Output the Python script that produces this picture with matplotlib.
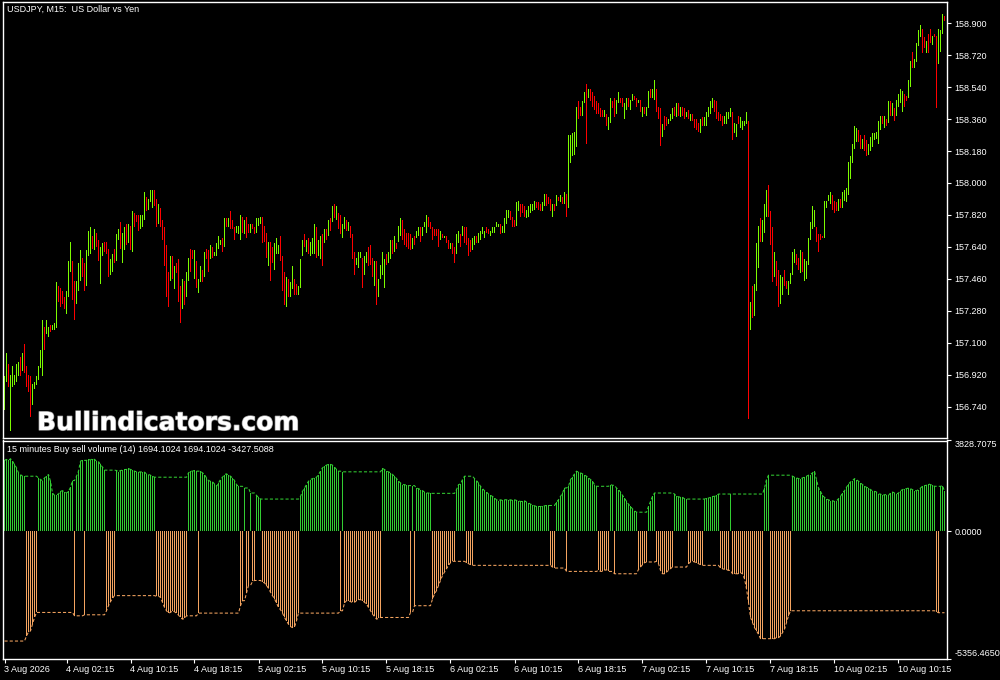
import numpy as np
import matplotlib
matplotlib.use('Agg')
import matplotlib.pyplot as plt
import matplotlib.patheffects as pe

plt.rcParams['font.family'] = ['Liberation Sans', 'DejaVu Sans']

# ---- USDJPY M15 bars ----
high = [
    156.91, 157.04, 156.98, 156.92, 156.97, 156.92, 156.98, 156.99, 157.02, 157.04,
    157.09, 156.97, 156.92, 156.91, 156.87, 156.88, 156.91, 156.97, 157.06, 157.23,
    157.19, 157.23, 157.19, 157.20, 157.20, 157.21, 157.44, 157.42, 157.41, 157.39,
    157.36, 157.39, 157.56, 157.67, 157.56, 157.45, 157.45, 157.55, 157.62, 157.58,
    157.55, 157.62, 157.73, 157.75, 157.70, 157.74, 157.72, 157.68, 157.64, 157.66,
    157.67, 157.67, 157.63, 157.57, 157.60, 157.63, 157.71, 157.74, 157.78, 157.72,
    157.75, 157.77, 157.77, 157.76, 157.84, 157.83, 157.82, 157.82, 157.82, 157.82,
    157.95, 157.92, 157.91, 157.96, 157.96, 157.96, 157.91, 157.88, 157.86, 157.79,
    157.75, 157.65, 157.50, 157.59, 157.59, 157.53, 157.55, 157.57, 157.42, 157.46,
    157.45, 157.50, 157.58, 157.63, 157.62, 157.62, 157.56, 157.46, 157.53, 157.51,
    157.61, 157.63, 157.62, 157.65, 157.64, 157.61, 157.66, 157.70, 157.68, 157.69,
    157.80, 157.80, 157.80, 157.84, 157.79, 157.75, 157.76, 157.76, 157.82, 157.81,
    157.79, 157.81, 157.77, 157.77, 157.77, 157.75, 157.80, 157.80, 157.81, 157.81,
    157.76, 157.72, 157.67, 157.67, 157.64, 157.66, 157.69, 157.65, 157.70, 157.59,
    157.50, 157.47, 157.46, 157.44, 157.53, 157.46, 157.43, 157.42, 157.57, 157.68,
    157.71, 157.68, 157.69, 157.67, 157.69, 157.77, 157.75, 157.68, 157.70, 157.71,
    157.74, 157.74, 157.79, 157.80, 157.87, 157.88, 157.87, 157.83, 157.82, 157.77,
    157.81, 157.79, 157.78, 157.76, 157.71, 157.61, 157.58, 157.61, 157.61, 157.58,
    157.59, 157.61, 157.64, 157.65, 157.58, 157.56, 157.56, 157.46, 157.54, 157.61,
    157.57, 157.60, 157.61, 157.68, 157.68, 157.70, 157.66, 157.76, 157.80, 157.79,
    157.74, 157.72, 157.72, 157.71, 157.69, 157.70, 157.73, 157.75, 157.75, 157.75,
    157.78, 157.82, 157.81, 157.78, 157.75, 157.74, 157.74, 157.74, 157.73, 157.71,
    157.70, 157.70, 157.68, 157.66, 157.66, 157.64, 157.71, 157.73, 157.71, 157.76,
    157.75, 157.75, 157.69, 157.68, 157.69, 157.70, 157.70, 157.72, 157.73, 157.75,
    157.73, 157.75, 157.74, 157.73, 157.75, 157.75, 157.78, 157.77, 157.77, 157.76,
    157.80, 157.85, 157.85, 157.84, 157.81, 157.79, 157.89, 157.90, 157.88, 157.88,
    157.87, 157.85, 157.87, 157.88, 157.88, 157.90, 157.89, 157.89, 157.88, 157.89,
    157.94, 157.94, 157.92, 157.91, 157.88, 157.88, 157.93, 157.92, 157.93, 157.92,
    157.95, 157.94, 158.27, 158.27, 158.28, 158.29, 158.43, 158.46, 158.43, 158.46,
    158.51, 158.56, 158.53, 158.53, 158.51, 158.49, 158.46, 158.45, 158.42, 158.41,
    158.41, 158.39, 158.37, 158.48, 158.46, 158.48, 158.47, 158.51, 158.48, 158.48,
    158.45, 158.48, 158.48, 158.47, 158.50, 158.49, 158.48, 158.47, 158.47, 158.43,
    158.43, 158.43, 158.52, 158.53, 158.53, 158.58, 158.53, 158.43, 158.42, 158.33,
    158.38, 158.37, 158.36, 158.39, 158.42, 158.43, 158.45, 158.45, 158.43, 158.43,
    158.42, 158.40, 158.41, 158.39, 158.39, 158.36, 158.36, 158.34, 158.36, 158.37,
    158.37, 158.40, 158.43, 158.46, 158.48, 158.47, 158.46, 158.40, 158.39, 158.38,
    158.38, 158.40, 158.40, 158.42, 158.40, 158.34, 158.33, 158.38, 158.37, 158.35,
    158.35, 158.40, 158.35, 157.33, 157.42, 157.43, 157.66, 157.76, 157.80, 157.79,
    157.88, 157.96, 157.99, 157.84, 157.75, 157.61, 157.56, 157.51, 157.48, 157.47,
    157.51, 157.45, 157.45, 157.49, 157.61, 157.63, 157.60, 157.58, 157.62, 157.61,
    157.57, 157.56, 157.69, 157.78, 157.87, 157.85, 157.75, 157.71, 157.71, 157.70,
    157.90, 157.90, 157.93, 157.95, 157.93, 157.90, 157.89, 157.91, 157.91, 157.95,
    157.96, 157.97, 158.12, 158.15, 158.22, 158.32, 158.31, 158.30, 158.27, 158.25,
    158.27, 158.24, 158.22, 158.26, 158.28, 158.28, 158.29, 158.35, 158.38, 158.38,
    158.38, 158.36, 158.46, 158.46, 158.45, 158.42, 158.47, 158.50, 158.53, 158.52,
    158.50, 158.49, 158.58, 158.69, 158.74, 158.70, 158.79, 158.86, 158.89, 158.87,
    158.82, 158.80, 158.84, 158.87, 158.83, 158.84, 158.83, 158.87, 158.86, 158.95,
    158.94,
]
low = [
    156.72, 156.88, 156.85, 156.60, 156.85, 156.86, 156.88, 156.91, 156.91, 156.94,
    156.93, 156.85, 156.82, 156.68, 156.75, 156.84, 156.86, 156.89, 156.96, 156.91,
    157.06, 157.15, 157.13, 157.16, 157.17, 157.17, 157.18, 157.33, 157.30, 157.32,
    157.29, 157.26, 157.36, 157.50, 157.34, 157.23, 157.32, 157.39, 157.45, 157.47,
    157.39, 157.42, 157.59, 157.60, 157.63, 157.62, 157.64, 157.56, 157.43, 157.59,
    157.61, 157.60, 157.47, 157.48, 157.50, 157.55, 157.56, 157.68, 157.63, 157.55,
    157.62, 157.65, 157.66, 157.62, 157.61, 157.75, 157.78, 157.73, 157.74, 157.75,
    157.79, 157.84, 157.85, 157.89, 157.86, 157.87, 157.75, 157.77, 157.75, 157.68,
    157.53, 157.36, 157.30, 157.45, 157.46, 157.40, 157.49, 157.33, 157.21, 157.29,
    157.31, 157.36, 157.45, 157.50, 157.57, 157.46, 157.41, 157.38, 157.44, 157.44,
    157.47, 157.57, 157.50, 157.57, 157.58, 157.59, 157.59, 157.63, 157.65, 157.61,
    157.64, 157.75, 157.75, 157.74, 157.74, 157.68, 157.72, 157.71, 157.68, 157.72,
    157.71, 157.69, 157.72, 157.72, 157.74, 157.71, 157.72, 157.76, 157.77, 157.66,
    157.67, 157.58, 157.53, 157.45, 157.55, 157.51, 157.60, 157.60, 157.56, 157.39,
    157.31, 157.30, 157.36, 157.36, 157.40, 157.37, 157.37, 157.37, 157.41, 157.59,
    157.64, 157.61, 157.60, 157.59, 157.60, 157.60, 157.58, 157.59, 157.57, 157.53,
    157.66, 157.68, 157.70, 157.73, 157.78, 157.80, 157.79, 157.74, 157.71, 157.69,
    157.74, 157.73, 157.73, 157.69, 157.57, 157.48, 157.54, 157.52, 157.58, 157.41,
    157.48, 157.55, 157.53, 157.54, 157.47, 157.42, 157.31, 157.36, 157.46, 157.48,
    157.41, 157.54, 157.55, 157.57, 157.60, 157.61, 157.63, 157.67, 157.70, 157.68,
    157.65, 157.64, 157.63, 157.62, 157.63, 157.65, 157.69, 157.70, 157.67, 157.70,
    157.75, 157.72, 157.75, 157.74, 157.68, 157.70, 157.70, 157.64, 157.68, 157.69,
    157.69, 157.66, 157.63, 157.63, 157.60, 157.55, 157.60, 157.66, 157.64, 157.70,
    157.66, 157.65, 157.59, 157.61, 157.62, 157.65, 157.66, 157.66, 157.68, 157.71,
    157.69, 157.72, 157.71, 157.70, 157.72, 157.72, 157.75, 157.75, 157.71, 157.72,
    157.72, 157.77, 157.80, 157.79, 157.75, 157.75, 157.76, 157.84, 157.81, 157.83,
    157.81, 157.80, 157.81, 157.83, 157.84, 157.85, 157.86, 157.85, 157.84, 157.84,
    157.87, 157.87, 157.88, 157.84, 157.81, 157.84, 157.87, 157.90, 157.89, 157.88,
    157.88, 157.81, 157.86, 158.11, 158.15, 158.16, 158.20, 158.36, 158.38, 158.38,
    158.45, 158.22, 158.48, 158.46, 158.43, 158.41, 158.39, 158.39, 158.37, 158.37,
    158.37, 158.32, 158.30, 158.34, 158.42, 158.37, 158.39, 158.45, 158.45, 158.43,
    158.36, 158.41, 158.43, 158.41, 158.46, 158.47, 158.43, 158.45, 158.40, 158.37,
    158.39, 158.38, 158.42, 158.48, 158.48, 158.47, 158.40, 158.36, 158.21, 158.26,
    158.30, 158.32, 158.33, 158.35, 158.36, 158.38, 158.37, 158.38, 158.37, 158.38,
    158.36, 158.37, 158.36, 158.35, 158.35, 158.31, 158.30, 158.29, 158.28, 158.32,
    158.32, 158.32, 158.37, 158.39, 158.42, 158.40, 158.36, 158.35, 158.35, 158.32,
    158.33, 158.33, 158.36, 158.37, 158.24, 158.28, 158.26, 158.33, 158.31, 158.30,
    158.32, 158.33, 156.67, 157.17, 157.24, 157.25, 157.39, 157.52, 157.67, 157.67,
    157.72, 157.81, 157.81, 157.65, 157.44, 157.47, 157.42, 157.30, 157.32, 157.37,
    157.42, 157.40, 157.37, 157.43, 157.48, 157.55, 157.54, 157.51, 157.49, 157.50,
    157.45, 157.46, 157.54, 157.68, 157.74, 157.75, 157.67, 157.61, 157.68, 157.69,
    157.69, 157.86, 157.90, 157.88, 157.85, 157.83, 157.84, 157.84, 157.86, 157.86,
    157.90, 157.89, 157.93, 158.02, 158.11, 158.19, 158.23, 158.23, 158.19, 158.19,
    158.18, 158.15, 158.16, 158.18, 158.20, 158.24, 158.25, 158.22, 158.30, 158.33,
    158.31, 158.32, 158.34, 158.38, 158.38, 158.35, 158.38, 158.43, 158.45, 158.40,
    158.43, 158.46, 158.48, 158.54, 158.65, 158.65, 158.68, 158.77, 158.82, 158.73,
    158.76, 158.73, 158.73, 158.79, 158.78, 158.82, 158.42, 158.67, 158.74, 158.84,
    158.91,
]
# u = bull candle, d = bear candle, ten bars per row
candle_dir = " ".join([
    "u u d u u u u u d u", "d d d d u u u u u u", "d u u d u u u d d d",
    "d u u u d d u u u d", "d u u u d u d d u u", "d d d u u d u u d u",
    "u d u d u d d d u u", "u d u u u d d u d d", "d d d u d u d d d u",
    "d u u d d u d u u d", "u d d u d u u u u d", "u d u d d d u u u d",
    "u d d u d d u u u d", "d d u d d u u u d d", "d u d u u d d u u u",
    "d u d u u u d u u d", "u d u d u d u d d u", "u d u d d d u u u d",
    "u u d d d u d u u u", "u d u u d u d u u d", "d d d d u d u u d u",
    "u u d d d d d d u d", "u d d u d d u u d u", "d d d d u u d u u u",
    "u d d u u u u u d u", "u u u d d d u u d d", "d u u u u u d d d u",
    "u d d d u d u d u d", "u d u u u u u d d u", "u d u d d d d d d d",
    "u d u u d d u u d d", "u u d u u d d u d u", "d u u d u u d d d u",
    "d d u u u d u d u d", "d u d u d d d d u d", "u u u u u d d d d d",
    "u u u u d u u d u u", "u u d u d u u u d u", "u u d d d u d d u u",
    "d d u u u u d d u d", "u u u u u u d d d d", "u u u u d d d u d u",
    "u u u u u u u d d u", "d d u u u u u u u d", "u d u d u d u u u u",
    "d d u u d u u u u d", "d u d d u d d u u u d",
]).split()

# ---- Buy sell volume: >0 buy bar drawn, <0 sell bar drawn ----
flow_value = [
    2991, 3033, 2991, 3061, 2962, 2821, 2679, 2466, 2395, 2324,
    2324, -4408, -4238, -4196, -3912, -3628, -3416, 2254, 2183, 2140,
    2254, 2324, 2395, 2112, 1616, 1517, 1545, 1573, 1687, 1715,
    1658, 1616, 1687, 1857, 2140, -3558, 2324, 2537, 2962, 2991,
    -3515, 2991, 3033, 3005, 3061, 3033, 2962, 2934, 2821, 2707,
    2580, -3345, -3132, -2962, -2821, -2707, 2565, 2509, 2565, 2580,
    2608, 2608, 2650, 2608, 2580, 2537, 2509, 2494, 2509, 2494,
    2494, 2424, 2395, 2367, 2324, 2282, -2736, -2736, -2778, -2991,
    -3203, -3345, -3444, -3416, -3345, -3388, -3444, -3529, -3628, -3699,
    -3671, -3558, 2466, 2537, 2537, 2565, 2537, -3444, 2537, 2466,
    2395, 2254, 2140, 2112, 2084, 1998, 1899, 2041, 2183, 2282,
    2395, 2424, 2367, 2324, 2254, 2140, 1970, 1899, -3132, -2920,
    1828, -2594, -2282, 1616, -2112, -2069, 1517, 1432, 1361, -2140,
    -2169, -2282, -2395, -2566, -2707, -2849, -3019, -3203, -3303, -3444,
    -3628, -3770, -3912, -4011, -4054, -4025, -3770, -3444, 1474, 1687,
    1828, 1970, 2112, 2183, 2225, 2254, 2282, 2395, 2537, 2679,
    2750, 2792, 2821, 2821, 2792, 2707, 2608, 2537, -3345, 2509,
    -3019, -2920, -2920, -2962, -2991, -2991, -2920, -2877, -2877, -2920,
    -2991, -3062, -3203, -3345, -3487, -3586, -3699, -3671, -3628, 2650,
    2608, 2537, 2509, 2466, 2395, 2324, 2225, 2112, 2041, 1970,
    1970, 1942, 1928, -3416, 1928, -3132, 1828, 1800, 1757, 1715,
    1658, 1616, 1616, 1602, -2849, -2637, -2495, -2282, -2069, -1857,
    -1715, -1573, -1432, -1318, -1262, -1262, 1757, 1970, 1998, 2183,
    2324, -1318, -1361, -1403, -1432, 2225, 2140, 2041, 1899, 1800,
    1715, 1658, 1573, 1517, 1474, 1403, 1332, 1290, 1332, 1304,
    1332, 1332, 1304, 1332, 1304, 1332, 1304, 1290, 1261, 1261,
    1290, 1233, 1191, 1148, 1120, 1077, 1049, 1049, 1049, 1049,
    1077, 1091, 1091, -1432, -1503, -1545, 1233, 1332, 1474, 1616,
    1828, -1687, 1899, 2183, 2282, 2424, 2537, 2494, 2466, 2424,
    2367, 2324, 2254, 2183, 2112, 1970, 1899, -1644, -1687, -1687,
    -1644, -1616, -1687, 1970, 1942, -1786, 1828, 1757, 1658, 1517,
    1403, 1261, 1148, 1049, 949, 864, 808, -1602, -1503, -1403,
    -1318, -1290, 1049, 1261, 1474, 1616, -1262, -1361, -1644, -1786,
    -1786, -1715, -1644, -1573, -1503, 1573, 1474, 1460, 1432, 1432,
    1375, 1361, -1361, -1290, -1262, -1290, -1318, -1361, -1403, -1432,
    1361, 1403, 1403, 1432, 1474, 1474, 1517, 1573, -1545, -1573,
    -1602, -1616, -1644, 1573, -1786, -1786, -1786, -1786, -1743, -1786,
    -1999, -2424, -2991, -3628, -3841, -4054, -4196, -4337, -4521, -4521,
    1828, 2183, 2367, -4521, -4521, -4521, -4479, -4479, -4408, -4266,
    -4125, -3841, -3558, -3345, 2324, 2282, 2254, 2225, 2211, 2254,
    2282, 2324, 2367, 2395, 2466, 2537, 2183, 1828, 1687, 1517,
    1432, 1361, 1332, 1290, 1290, 1261, 1290, 1375, 1474, 1616,
    1715, 1857, 1998, 2084, 2140, 2225, 2183, 2112, 2041, 1970,
    1899, 1857, 1828, 1757, 1715, 1687, 1658, 1573, 1573, 1517,
    1545, 1545, 1517, 1616, 1658, 1616, 1573, 1616, 1715, 1757,
    1800, 1800, 1828, 1800, 1757, 1715, 1715, 1757, 1828, 1899,
    1928, 1942, 1998, 1970, 1942, 1899, -3388, -3428, 1899, 1928,
    1694,
]
sell_start = -4621   # sell level held before the first sell bar

price_ticks = [158.900, 158.720, 158.540, 158.360, 158.180, 158.000, 157.820,
               157.640, 157.460, 157.280, 157.100, 156.920, 156.740]
flow_ticks = [3828.7075, 0.0, -5356.4650]
tick_bars = [0, 31, 63, 95, 127, 159, 191, 223, 255, 287, 319, 351, 383, 415, 447]
tick_text = ['3 Aug 2026', '4 Aug 02:15', '4 Aug 10:15', '4 Aug 18:15', '5 Aug 02:15',
             '5 Aug 10:15', '5 Aug 18:15', '6 Aug 02:15', '6 Aug 10:15', '6 Aug 18:15',
             '7 Aug 02:15', '7 Aug 10:15', '7 Aug 18:15', '10 Aug 02:15', '10 Aug 10:15']

# held levels -> dashed lines
buy_line, sell_line = [], []
b_last, s_last = flow_value[0], sell_start
for v in flow_value:
    if v > 0:
        b_last = v
    else:
        s_last = v
    buy_line.append(b_last)
    sell_line.append(s_last)

BULL, BEAR = '#7CFC00', '#FF0000'
BUYC, SELLC = '#32CD32', '#F4A460'
TXT = 6.5
BW = 0.5   # one pixel wide bars (2 px per bar slot)

W, H = 1000, 680
def box(l, t, r, b):
    return [l / W, 1 - b / H, (r - l) / W, (b - t) / H]

fig = plt.figure(figsize=(10, 6.8), dpi=100, facecolor='black')
ax = fig.add_axes(box(2.5, 2.3, 947.3, 438))
ax2 = fig.add_axes(box(2.5, 440.5, 947.3, 658.5), sharex=ax)

for a in (ax, ax2):
    a.set_facecolor('black')
    for s in a.spines.values():
        s.set_color('white')
        s.set_linewidth(1)
    a.yaxis.tick_right()

x = np.arange(len(high))
hi, lo = np.array(high), np.array(low)
up = np.array([d == 'u' for d in candle_dir])
ax.bar(x[up], hi[up] - lo[up], bottom=lo[up], width=BW, color=BULL,
       linewidth=0, antialiased=False)
ax.bar(x[~up], hi[~up] - lo[~up], bottom=lo[~up], width=BW, color=BEAR,
       linewidth=0, antialiased=False)
ax.set_xlim(-1, 471.4)
ax.set_ylim(156.563, 159.018)
ax.set_yticks(price_ticks)
ax.set_yticklabels([f'{p:.3f}' for p in price_ticks])
ax.tick_params(axis='y', colors='white', labelsize=TXT, length=3, width=0.8, pad=2)
ax.tick_params(axis='x', bottom=False, labelbottom=False)

fv = np.array(flow_value, float)
buy = fv > 0
ax2.bar(x[buy], fv[buy], width=BW, color=BUYC, linewidth=0, antialiased=False)
ax2.bar(x[~buy], fv[~buy], width=BW, color=SELLC, linewidth=0, antialiased=False)
ax2.plot(x, buy_line, color=BUYC, lw=0.75, dashes=(3, 2))
ax2.plot(x, sell_line, color=SELLC, lw=0.75, dashes=(3, 2))
ax2.set_ylim(-5356.465, 3828.7075)
ax2.set_yticks(flow_ticks)
ax2.set_yticklabels([f'{v:.4f}' for v in flow_ticks])
ax2.tick_params(axis='y', colors='white', labelsize=TXT, length=3, width=0.8, pad=2)
ticks = ax2.yaxis.get_major_ticks()
ticks[0].label2.set_va('top')
ticks[2].label2.set_va('bottom')
ax2.set_xticks(tick_bars)
ax2.set_xticklabels(tick_text)
ax2.tick_params(axis='x', colors='white', labelsize=TXT, length=3, width=0.8, pad=1.5)
for lbl in ax2.get_xticklabels():
    lbl.set_ha('left')

fig.text(6.7 / W, 1 - 9.7 / H, 'USDJPY, M15:  US Dollar vs Yen', color='white',
         fontsize=TXT, va='center', ha='left')
fig.text(6.7 / W, 1 - 450 / H,
         '15 minutes Buy sell volume (14) 1694.1024 1694.1024 -3427.5088',
         color='white', fontsize=TXT, va='center', ha='left')
fig.text(37 / W, 1 - 430 / H, 'Bullindicators.com', color='white', fontsize=18,
         fontweight='bold', family='DejaVu Sans', va='baseline', ha='left',
         path_effects=[pe.withStroke(linewidth=1, foreground='#9a9a9a')])

fig.savefig('out.png', dpi=100, facecolor='black')
